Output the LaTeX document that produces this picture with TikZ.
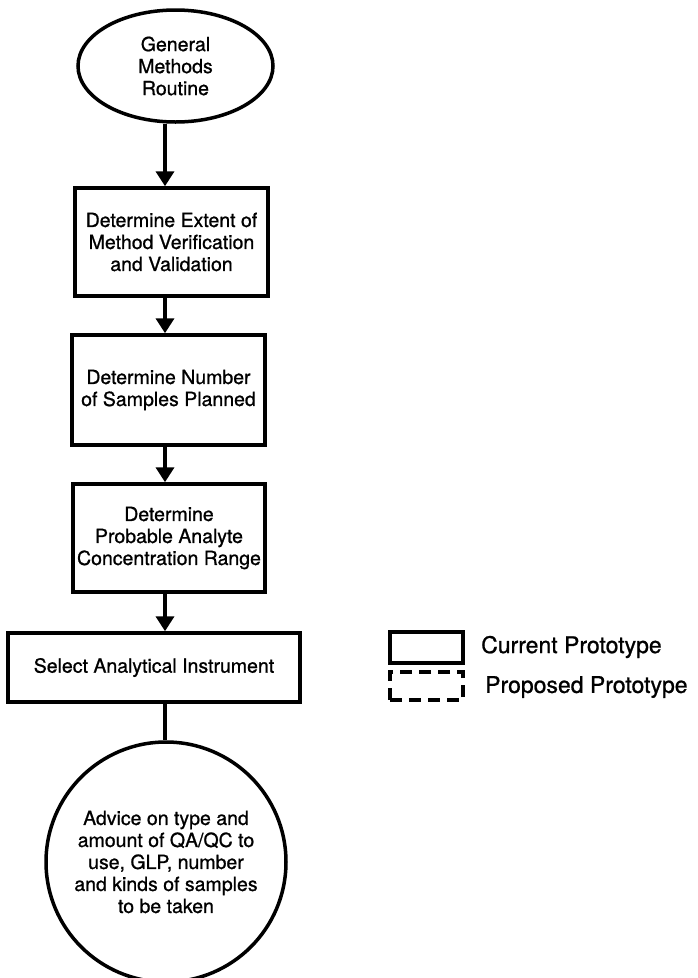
\documentclass[tikz,border=0pt]{standalone}
\usepackage{fontspec}
\setmainfont{TeX Gyre Heros}[FakeBold=0.9]
\usetikzlibrary{arrows.meta,shapes.geometric}
\tikzset{
  shapeline/.style={draw=black, line width=3.5pt},
  boxfont/.style={font=\fontsize{19.5}{22}\selectfont},
  stepbox/.style={shapeline, rectangle, align=center, boxfont, inner sep=0pt},
  arr/.style={line width=3.8pt, -{Triangle[length=15pt,width=18pt]}},
  plainline/.style={line width=3.8pt},
  legtext/.style={anchor=west, font=\fontsize{23}{26}\selectfont, inner sep=0pt}
}
\begin{document}
\begin{tikzpicture}[x=1pt,y=-1pt]
\useasboundingbox (0,0) rectangle (698,978);
\node[shapeline, ellipse, minimum width=195pt, minimum height=112pt, inner sep=0pt, align=center, boxfont] (ell) at (175.5,66) {General\\Methods\\Routine};
\node[stepbox, minimum width=193pt, minimum height=108pt] (b1) at (171.5,242) {Determine Extent of\\Method Verification\\and Validation};
\node[stepbox, minimum width=193pt, minimum height=110pt] (b2) at (168.5,390) {Determine Number\\of Samples Planned};
\node[stepbox, minimum width=192pt, minimum height=108pt] (b3) at (169,538) {Determine\\Probable Analyte\\Concentration Range};
\node[stepbox, minimum width=292pt, minimum height=69pt] (b4) at (154,667.5) {Select Analytical Instrument};
\node[shapeline, circle, minimum size=240pt, inner sep=0pt, align=center, boxfont] (adv) at (166,862) {Advice on type and\\amount of QA/QC to\\use, GLP, number\\and kinds of samples\\to be taken};
\coordinate (axis) at (165,0);
\draw[arr] (axis |- ell.south) -- (axis |- b1.north);
\draw[arr] (axis |- b1.south) -- (axis |- b2.north);
\draw[arr] (axis |- b2.south) -- (axis |- b3.north);
\draw[arr] (axis |- b3.south) -- (axis |- b4.north);
\draw[plainline] (axis |- b4.south) -- (axis |- adv.north);
% legend
\node[shapeline, rectangle, minimum width=73pt, minimum height=31pt, inner sep=0pt] (lcur) at (426.5,647.5) {};
\node[draw=black, line width=3.5pt, dash pattern=on 12pt off 7pt, rectangle, minimum width=73pt, minimum height=28pt, inner sep=0pt] (lprop) at (426.5,686) {};
\node[legtext] (tcur) at (481,647) {Current Prototype};
\node[legtext] (tprop) at (485,687) {Proposed Prototype};
\end{tikzpicture}
\end{document}
